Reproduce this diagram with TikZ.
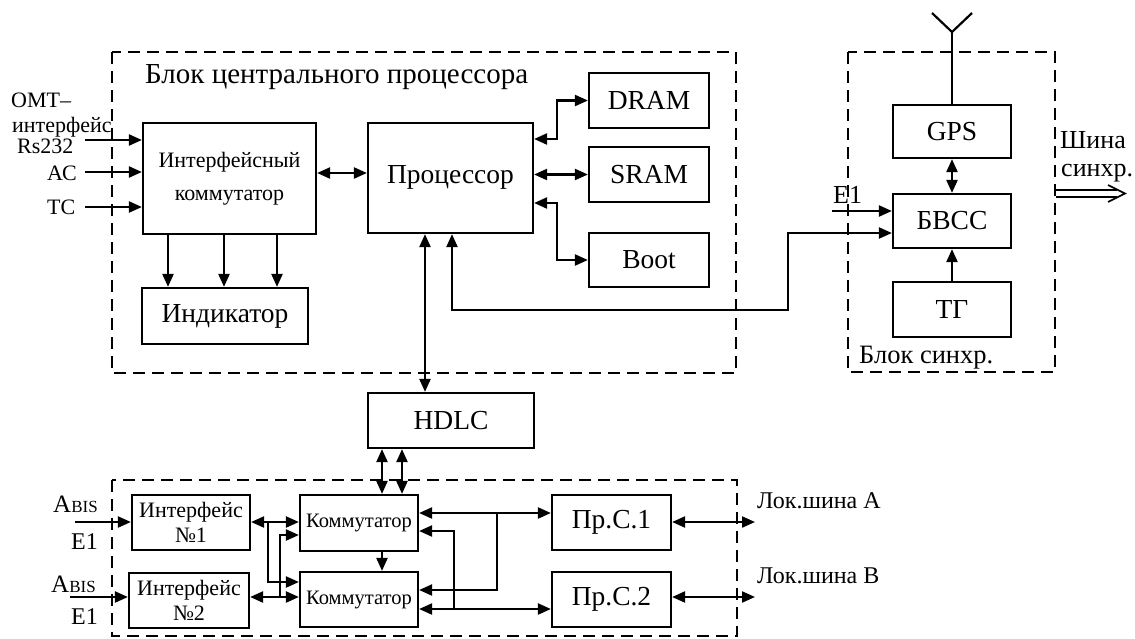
\documentclass[tikz,border=0pt]{standalone}
\usepackage{fontspec}
\setmainfont{Liberation Serif}
\usetikzlibrary{arrows.meta,calc}
\begin{document}
\begin{tikzpicture}[x=1pt,y=-1pt,
  blk/.style={draw,line width=2.2pt,inner sep=0pt,align=center,font=\fontsize{27.5}{30}\selectfont},
  arr/.style={line width=2.2pt,-{Triangle[length=13pt,width=11pt]}},
  darr/.style={line width=2.2pt,{Triangle[length=13pt,width=11pt]}-{Triangle[length=13pt,width=11pt]}},
  ln/.style={line width=2.2pt},
  grp/.style={draw,line width=2.2pt,dash pattern=on 12pt off 7pt},
  lbl/.style={inner sep=0pt,anchor=base west,font=\fontsize{22}{24}\selectfont},
  big/.style={inner sep=0pt,anchor=base west,font=\fontsize{26}{28}\selectfont},
]
\useasboundingbox[fill=white] (0,0) rectangle (1135,638);

% group frames
\draw[grp] (112,52) rectangle (736,373);
\draw[grp] (848,52) rectangle (1055,372);
\draw[grp] (112,480) rectangle (737,636);

% blocks
\node[blk, minimum width=173pt, minimum height=111pt, font=\fontsize{22}{33}\selectfont] (ik) at (229.5,178.5) {Интерфейсный\\коммутатор};
\node[blk, minimum width=166pt, minimum height=56pt] (ind) at (225,316) {Индикатор};
\node[blk, minimum width=165pt, minimum height=110pt] (proc) at (450.5,178) {\raisebox{8pt}{Процессор}};
\node[blk, minimum width=120pt, minimum height=55pt] (dram) at (649,100.5) {DRAM};
\node[blk, minimum width=120pt, minimum height=55pt] (sram) at (649,174.5) {SRAM};
\node[blk, minimum width=120pt, minimum height=54pt] (boot) at (649,260) {Boot};
\node[blk, minimum width=118pt, minimum height=53pt] (gps) at (952,131.5) {GPS};
\node[blk, minimum width=118pt, minimum height=54pt] (bvss) at (952,221) {БВСС};
\node[blk, minimum width=118pt, minimum height=55pt] (tg) at (952,309.5) {ТГ};
\node[blk, minimum width=166pt, minimum height=55pt] (hdlc) at (451,420.5) {HDLC};
\node[blk, minimum width=118pt, minimum height=55pt, font=\fontsize{22}{25}\selectfont] (if1) at (191,522.5) {Интерфейс\\№1};
\node[blk, minimum width=120pt, minimum height=55pt, font=\fontsize{22}{25}\selectfont] (if2) at (189,600.5) {Интерфейс\\№2};
\node[blk, minimum width=118pt, minimum height=56pt, font=\fontsize{20.5}{22}\selectfont] (k1) at (359,523) {Коммутатор};
\node[blk, minimum width=118pt, minimum height=55pt, font=\fontsize{20.5}{22}\selectfont] (k2) at (359,599.5) {Коммутатор};
\node[blk, minimum width=119pt, minimum height=55pt] (p1) at (611.5,522.5) {Пр.С.1};
\node[blk, minimum width=119pt, minimum height=55pt] (p2) at (611.5,599.5) {Пр.С.2};

% labels
\node[big, font=\fontsize{29}{31}\selectfont] (tcpu) at (145,83) {Блок центрального процессора};
\node[lbl] (lomt) at (11,107) {ОМТ–};
\node[lbl] (lint) at (12,132) {интерфейс};
\node[lbl] (lrs) at (17,153) {Rs232};
\node[lbl] (lac) at (47,180) {АС};
\node[lbl] (ltc) at (47,214) {ТС};
\node[big] (le1) at (833,203) {E1};
\node[big] (lsh) at (1060,148) {Шина};
\node[big] (lsy) at (1061,176) {синхр.};
\node[big, font=\fontsize{26.5}{28}\selectfont] (lbs) at (859,363) {Блок синхр.};
\node[lbl, font=\fontsize{25}{26}\selectfont] (ab1) at (53,512) {A{\fontsize{17}{17}\selectfont BIS}};
\node[lbl, font=\fontsize{24}{26}\selectfont] (e11) at (71,549) {E1};
\node[lbl, font=\fontsize{25}{26}\selectfont] (ab2) at (51,592) {A{\fontsize{17}{17}\selectfont BIS}};
\node[lbl, font=\fontsize{24}{26}\selectfont] (e12) at (71,624) {E1};
\node[lbl, font=\fontsize{24}{26}\selectfont] (lla) at (757,508) {Лок.шина А};
\node[lbl, font=\fontsize{24}{26}\selectfont] (llb) at (757,583) {Лок.шина В};

% inputs to interface switch
\coordinate (omt) at (85,140);
\coordinate (ac) at (85,172);
\coordinate (tc) at (85,207);
\draw[arr] (omt) -- (omt -| ik.west);
\draw[arr] (ac) -- (ac -| ik.west);
\draw[arr] (tc) -- (tc -| ik.west);
\coordinate (ip) at (0,173);
\draw[darr] (ip -| ik.east) -- (ip -| proc.west);
\foreach \x [count=\i] in {168,224,277} {
  \coordinate (ix\i) at (\x,0);
  \draw[arr] (ik.south -| ix\i) -- (ind.north -| ix\i);
}
% processor to memories
\coordinate (pd) at (557,139);
\draw[darr] (pd -| proc.east) -- (pd) |- (dram.west);
\draw[darr] (sram.west -| proc.east) -- (sram.west);
\coordinate (pb) at (557,203);
\draw[darr] (pb -| proc.east) -- (pb) |- (boot.west);
% processor to HDLC
\coordinate (ph) at (425,0);
\draw[darr] (ph |- proc.south) -- (ph |- hdlc.north);
% processor to sync
\coordinate (pw1) at (452,310);
\coordinate (pw2) at (788,233);
\draw[darr] (pw1 |- proc.south) -- (pw1) -| (pw2) -- (pw2 -| bvss.west);
\coordinate (e1s) at (832,211);
\draw[arr] (e1s) -- (e1s -| bvss.west);
\draw[darr] (gps.south) -- (bvss.north);
\draw[arr] (tg.north) -- (bvss.south);
% antenna
\coordinate (ant) at (952,32);
\coordinate (antl) at (932,13);
\coordinate (antr) at (972,13);
\draw[ln] (gps.north) -- (ant);
\draw[ln] (antl) -- (ant) -- (antr);
% sync bus output (hollow double arrow)
\coordinate (so1) at (1056,190);
\coordinate (so2) at (1056,197);
\coordinate (sot) at (1125,193.5);
\coordinate (sou) at (1108,185);
\coordinate (sod) at (1108,202);
\draw[line width=1.6pt] (so1) -- (so1 -| 1117,0) ;
\draw[line width=1.6pt] (so2) -- (so2 -| 1117,0);
\draw[line width=1.6pt,line join=miter] (sou) -- (sot) -- (sod);
% HDLC to switch
\coordinate (h1) at (382,0);
\coordinate (h2) at (402,0);
\draw[darr] (h1 |- hdlc.south) -- (h1 |- k1.north);
\draw[darr] (h2 |- hdlc.south) -- (h2 |- k1.north);
\draw[arr] (h1 |- k1.south) -- (h1 |- k2.north);
% Abis inputs
\coordinate (a1) at (75,522);
\coordinate (a2) at (70,597);
\draw[arr] (a1) -- (a1 -| if1.west);
\draw[arr] (a2) -- (a2 -| if2.west);
% interfaces to switches
\draw[darr] (a1 -| if1.east) -- (a1 -| k1.west);
\coordinate (b1) at (268,522);
\coordinate (b1e) at (268,582);
\draw[arr] (b1) -- (b1e) -- (b1e -| k2.west);
\draw[darr] (a2 -| if2.east) -- (a2 -| k2.west);
\coordinate (b2) at (280,597);
\coordinate (b2e) at (280,535);
\draw[arr] (b2) -- (b2e) -- (b2e -| k1.west);
% switches to Pr.S
\coordinate (c1) at (497,513);
\coordinate (c1e) at (497,590);
\draw[darr] (c1 -| k1.east) -- (c1 -| p1.west);
\draw[arr] (c1) -- (c1e) -- (c1e -| k2.east);
\coordinate (c2) at (454,609);
\coordinate (c2e) at (454,531);
\draw[darr] (c2 -| k2.east) -- (c2 -| p2.west);
\draw[arr] (c2) -- (c2e) -- (c2e -| k1.east);
% local buses
\coordinate (la) at (755,522);
\coordinate (lb) at (755,597);
\draw[darr] (la -| p1.east) -- (la);
\draw[darr] (lb -| p2.east) -- (lb);
\end{tikzpicture}
\end{document}
